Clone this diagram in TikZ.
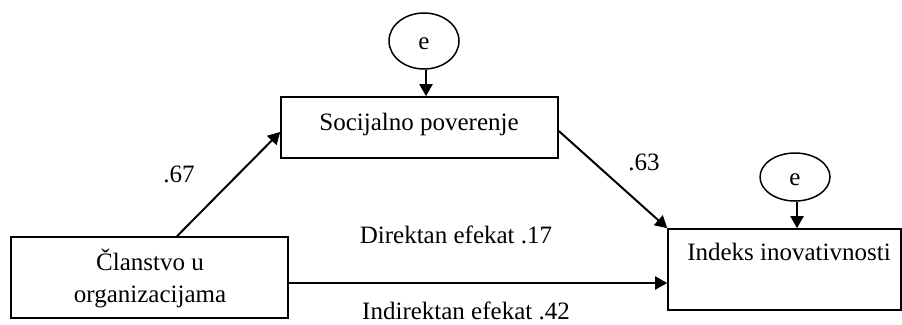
\documentclass[tikz,border=0pt]{standalone}
\usepackage{fontspec}
\setmainfont{Liberation Serif}
\usetikzlibrary{arrows.meta,shapes.geometric}
\begin{document}
\begin{tikzpicture}[x=1pt,y=-1pt,
  every node/.style={font=\fontsize{25}{31}\selectfont},
  boxnode/.style={draw,line width=1.6pt,rectangle,inner sep=0pt},
  errnode/.style={draw,line width=1.5pt,ellipse,inner sep=0pt},
  txt/.style={anchor=base,inner sep=0pt},
  conn/.style={line width=2pt,-{Triangle[length=12pt,width=13pt]}}
]
\useasboundingbox (0,0) rectangle (902,324);
% boxes
\node[boxnode,minimum width=277pt,minimum height=81pt] (L) at (149.5,277.5) {};
\node[boxnode,minimum width=277pt,minimum height=61pt] (S) at (419.5,127.5) {};
\node[boxnode,minimum width=233pt,minimum height=81pt] (I) at (784.5,269.5) {};
% error ellipses
\node[errnode,minimum width=70pt,minimum height=56pt] (E1) at (424,41) {};
\node[errnode,minimum width=70pt,minimum height=48pt] (E2) at (795,177) {};
% texts
\node[txt] (tL1) at (150,270) {Članstvo u};
\node[txt] (tL2) at (150,302) {organizacijama};
\node[txt] (tS) at (419,130) {Socijalno poverenje};
\node[txt] (tI) at (789,260) {Indeks inovativnosti};
\node[txt] (tE1) at (424,49) {e};
\node[txt] (tE2) at (795,185) {e};
% coordinates for connector ends on box borders
\coordinate (Ltop) at (L.north -| 177,0);
\coordinate (Sleft) at (S.west |- 0,132);
\coordinate (Sright) at (S.east |- 0,131);
\coordinate (Lright) at (L.east |- 0,283);
\coordinate (Ileft) at (I.west |- 0,283);
% connectors
\draw[conn] (Ltop) -- (Sleft);
\draw[conn] (Sright) -- (I.north west);
\draw[conn] (Lright) -- (Ileft);
\draw[conn] (E1.south -| 426,0) -- (S.north -| 426,0);
\draw[conn] (E2.south -| 797,0) -- (I.north -| 797,0);
% labels
\node[txt] (l67) at (179,182) {.67};
\node[txt] (l63) at (644,170) {.63};
\node[txt] (ld) at (456,243) {Direktan efekat .17};
\node[txt] (li) at (466,319.5) {Indirektan efekat .42};
\end{tikzpicture}
\end{document}
